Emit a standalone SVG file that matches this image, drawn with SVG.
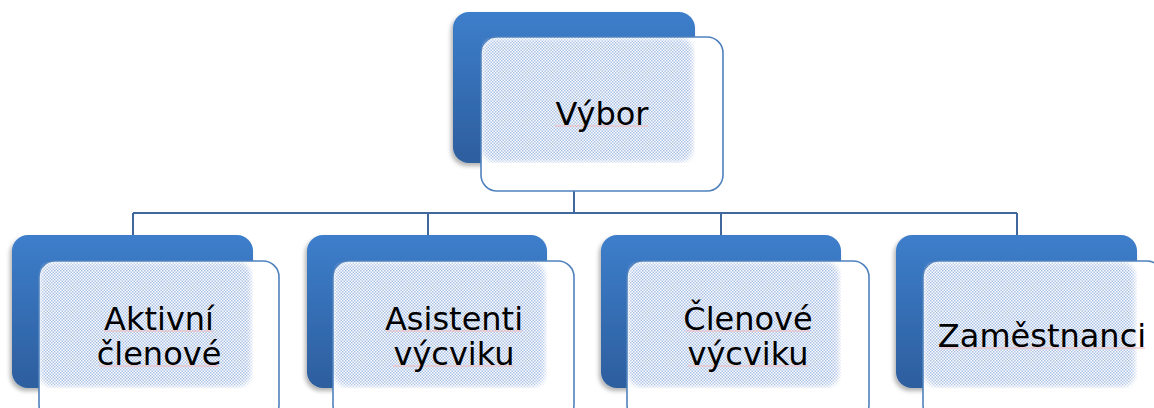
<svg xmlns="http://www.w3.org/2000/svg" width="1154" height="408" viewBox="0 0 1154 408">
<defs>
<linearGradient id="bg" x1="0" y1="0" x2="0" y2="1">
<stop offset="0" stop-color="#3d7ecb"/>
<stop offset="1" stop-color="#2d5e9e"/>
</linearGradient>
<pattern id="dots" width="3" height="3" patternUnits="userSpaceOnUse">
<rect x="0" y="0" width="1.5" height="1.5" fill="#a9c0e5"/>
<rect x="1.5" y="1.5" width="1.5" height="1.5" fill="#a9c0e5"/>
</pattern>
<filter id="sh" x="-10%" y="-10%" width="120%" height="125%">
<feDropShadow dx="-2" dy="3" stdDeviation="2" flood-color="#000" flood-opacity="0.3"/>
</filter>
<filter id="soft" x="-5%" y="-5%" width="110%" height="110%">
<feGaussianBlur stdDeviation="2.5"/>
</filter>
<mask id="fade" maskUnits="userSpaceOnUse" x="0" y="0" width="1154" height="408">
<g fill="#fff" filter="url(#soft)">
<rect x="482" y="38" width="211" height="124" rx="14"/>
<rect x="40" y="262" width="211" height="125" rx="14"/>
<rect x="334" y="262" width="211" height="125" rx="14"/>
<rect x="628" y="262" width="211" height="125" rx="14"/>
<rect x="924" y="262" width="211" height="125" rx="14"/>
</g>
</mask>
</defs>
<style>
.back{fill:url(#bg);filter:url(#sh)}
.front{fill:#fff;stroke:#4f81bd;stroke-width:1.6}
.dot{fill:url(#dots);mask:url(#fade)}
.lbl{font-family:"DejaVu Sans",Verdana,sans-serif;font-size:32px;fill:#000;text-anchor:middle}
.ul{stroke:#f2b8b8;stroke-width:1}
.conn{fill:none;stroke:#41689c;stroke-width:2}
</style>
<g id="connectors">
<path class="conn" d="M574 191 V213 M133 213 H1017 M133 213 V235 M428 213 V235 M721 213 V235 M1017 213 V235"/>
</g>
<g id="node-vybor">
<rect class="back" x="453" y="12" width="242" height="151" rx="16"/>
<rect class="front" x="481" y="37" width="242" height="154" rx="16"/>
<rect class="dot" x="482" y="38" width="213" height="125"/>
<line class="ul" x1="555" y1="126" x2="648" y2="126"/>
<text class="lbl" x="602" y="125">Výbor</text>
</g>
<g id="node-aktivni">
<rect class="back" x="12" y="235" width="241" height="153" rx="16"/>
<rect class="front" x="39" y="261" width="240" height="160" rx="16"/>
<rect class="dot" x="40" y="262" width="213" height="126"/>
<line class="ul" x1="104" y1="331" x2="213" y2="331"/>
<line class="ul" x1="99" y1="366" x2="219" y2="366"/>
<text class="lbl" x="159" y="330">Aktivní</text>
<text class="lbl" x="159" y="365">členové</text>
</g>
<g id="node-asistenti">
<rect class="back" x="307" y="235" width="240" height="153" rx="16"/>
<rect class="front" x="333" y="261" width="241" height="160" rx="16"/>
<rect class="dot" x="334" y="262" width="213" height="126"/>
<line class="ul" x1="386" y1="331" x2="522" y2="331"/>
<line class="ul" x1="393" y1="366" x2="514" y2="366"/>
<text class="lbl" x="454" y="330">Asistenti</text>
<text class="lbl" x="454" y="365">výcviku</text>
</g>
<g id="node-clenove">
<rect class="back" x="601" y="235" width="240" height="153" rx="16"/>
<rect class="front" x="627" y="261" width="242" height="160" rx="16"/>
<rect class="dot" x="628" y="262" width="213" height="126"/>
<line class="ul" x1="686" y1="331" x2="810" y2="331"/>
<line class="ul" x1="688" y1="366" x2="808" y2="366"/>
<text class="lbl" x="748" y="330">Členové</text>
<text class="lbl" x="748" y="365">výcviku</text>
</g>
<g id="node-zamestnanci">
<rect class="back" x="896" y="235" width="241" height="153" rx="16"/>
<rect class="front" x="923" y="261" width="240" height="160" rx="16"/>
<rect class="dot" x="924" y="262" width="213" height="126"/>
<line class="ul" x1="941" y1="348" x2="1145" y2="348"/>
<text class="lbl" x="1042" y="347">Zaměstnanci</text>
</g>
</svg>
